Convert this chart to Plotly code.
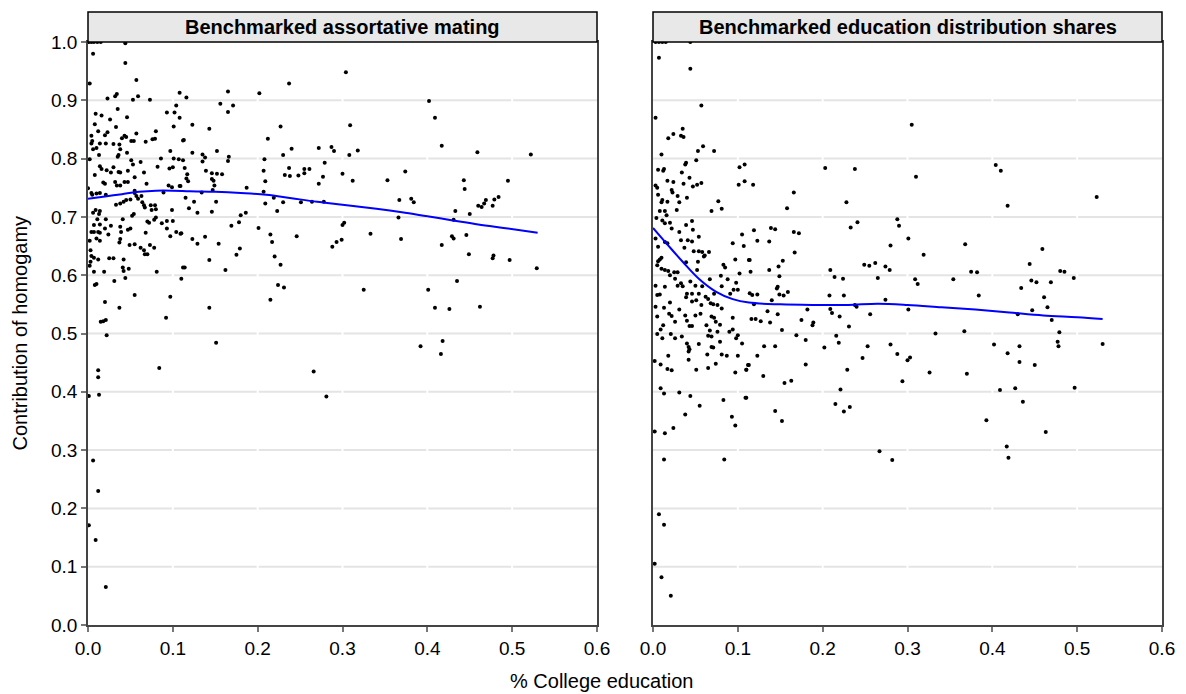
import plotly.graph_objects as go
from plotly.subplots import make_subplots

# ---- data -------------------------------------------------------------
panel_titles = ["Benchmarked assortative mating", "Benchmarked education distribution shares"]
x_ticks = [0.0, 0.1, 0.2, 0.3, 0.4, 0.5, 0.6]
y_ticks = [0.0, 0.1, 0.2, 0.3, 0.4, 0.5, 0.6, 0.7, 0.8, 0.9, 1.0]

# (share college educated, contribution of homogamy)
mating_points = [
    (0.001, 1.0), (0.004, 1.0), (0.007, 1.0), (0.011, 1.0), (0.015, 1.0), (0.044, 0.998),
    (0.006, 0.980), (0.044, 0.964), (0.002, 0.929), (0.057, 0.935), (0.034, 0.911), (0.032, 0.907),
    (0.023, 0.903), (0.053, 0.901), (0.059, 0.907), (0.073, 0.901), (0.108, 0.913), (0.104, 0.891),
    (0.093, 0.879), (0.102, 0.879), (0.108, 0.870), (0.009, 0.877), (0.016, 0.874), (0.026, 0.867),
    (0.046, 0.871), (0.035, 0.885), (0.101, 0.855), (0.008, 0.859), (0.033, 0.854), (0.012, 0.847),
    (0.023, 0.845), (0.020, 0.840), (0.080, 0.847), (0.057, 0.843), (0.004, 0.839), (0.043, 0.839),
    (0.040, 0.835), (0.045, 0.837), (0.051, 0.830), (0.054, 0.830), (0.076, 0.833), (0.079, 0.834),
    (0.068, 0.829), (0.113, 0.832), (0.005, 0.830), (0.004, 0.826), (0.014, 0.826), (0.021, 0.826),
    (0.030, 0.825), (0.037, 0.824), (0.006, 0.816), (0.010, 0.818), (0.038, 0.816), (0.046, 0.810),
    (0.097, 0.813), (0.013, 0.806), (0.036, 0.806), (0.035, 0.803), (0.002, 0.799), (0.051, 0.797),
    (0.086, 0.800), (0.101, 0.800), (0.107, 0.799), (0.014, 0.787), (0.053, 0.790), (0.062, 0.794),
    (0.100, 0.785), (0.082, 0.786), (0.096, 0.783), (0.016, 0.782), (0.022, 0.780), (0.030, 0.785),
    (0.027, 0.776), (0.036, 0.777), (0.038, 0.776), (0.047, 0.779), (0.066, 0.776), (0.055, 0.768),
    (0.008, 0.772), (0.018, 0.759), (0.020, 0.757), (0.032, 0.760), (0.034, 0.754), (0.043, 0.760),
    (0.047, 0.760), (0.038, 0.754), (0.069, 0.757), (0.095, 0.754), (0.099, 0.751), (0.109, 0.753),
    (0.000, 0.749), (0.004, 0.741), (0.005, 0.738), (0.010, 0.740), (0.014, 0.741), (0.055, 0.741),
    (0.057, 0.736), (0.055, 0.745), (0.021, 0.738), (0.089, 0.742), (0.063, 0.736), (0.059, 0.731),
    (0.050, 0.730), (0.045, 0.729), (0.042, 0.726), (0.038, 0.723), (0.033, 0.721), (0.064, 0.725),
    (0.066, 0.720), (0.074, 0.720), (0.079, 0.720), (0.080, 0.713), (0.075, 0.712), (0.099, 0.712),
    (0.067, 0.716), (0.009, 0.712), (0.014, 0.710), (0.006, 0.707), (0.013, 0.705), (0.054, 0.705),
    (0.052, 0.702), (0.041, 0.696), (0.021, 0.696), (0.011, 0.696), (0.080, 0.699), (0.078, 0.695),
    (0.070, 0.692), (0.072, 0.690), (0.087, 0.689), (0.093, 0.693), (0.100, 0.693), (0.007, 0.686),
    (0.014, 0.687), (0.027, 0.685), (0.038, 0.683), (0.050, 0.680), (0.020, 0.680), (0.093, 0.680),
    (0.047, 0.678), (0.004, 0.674), (0.007, 0.674), (0.012, 0.674), (0.014, 0.673), (0.024, 0.670),
    (0.039, 0.674), (0.068, 0.673), (0.104, 0.674), (0.110, 0.672), (0.097, 0.667), (0.010, 0.663),
    (0.014, 0.659), (0.038, 0.662), (0.037, 0.656), (0.002, 0.659), (0.049, 0.652), (0.003, 0.643),
    (0.062, 0.647), (0.073, 0.652), (0.078, 0.647), (0.055, 0.653), (0.066, 0.643), (0.067, 0.636),
    (0.070, 0.636), (0.004, 0.633), (0.007, 0.630), (0.012, 0.627), (0.025, 0.629), (0.030, 0.629),
    (0.042, 0.627), (0.003, 0.623), (0.002, 0.616), (0.041, 0.613), (0.048, 0.611), (0.042, 0.607),
    (0.114, 0.613), (0.007, 0.606), (0.019, 0.606), (0.081, 0.606), (0.110, 0.594), (0.044, 0.595),
    (0.010, 0.585), (0.008, 0.583), (0.031, 0.590), (0.055, 0.566), (0.097, 0.563), (0.020, 0.554),
    (0.037, 0.544), (0.092, 0.527), (0.015, 0.520), (0.018, 0.521), (0.021, 0.523), (0.022, 0.497),
    (0.012, 0.437), (0.012, 0.425), (0.084, 0.441), (0.001, 0.393), (0.013, 0.395), (0.006, 0.282),
    (0.012, 0.230), (0.001, 0.171), (0.009, 0.146), (0.021, 0.065),
    (0.116, 0.905), (0.165, 0.915), (0.156, 0.894), (0.171, 0.891), (0.165, 0.880), (0.202, 0.912),
    (0.237, 0.929), (0.304, 0.948), (0.123, 0.858), (0.143, 0.851), (0.112, 0.831), (0.227, 0.855),
    (0.212, 0.834), (0.309, 0.857), (0.123, 0.810), (0.152, 0.813), (0.135, 0.807), (0.138, 0.802),
    (0.135, 0.795), (0.166, 0.803), (0.165, 0.796), (0.112, 0.797), (0.230, 0.806), (0.240, 0.817),
    (0.208, 0.799), (0.272, 0.818), (0.287, 0.820), (0.290, 0.813), (0.308, 0.806), (0.114, 0.784),
    (0.117, 0.773), (0.116, 0.766), (0.118, 0.761), (0.139, 0.779), (0.146, 0.775), (0.152, 0.774),
    (0.158, 0.773), (0.146, 0.765), (0.148, 0.762), (0.149, 0.754), (0.147, 0.746), (0.207, 0.779),
    (0.209, 0.761), (0.237, 0.784), (0.232, 0.772), (0.238, 0.770), (0.248, 0.771), (0.255, 0.782),
    (0.261, 0.782), (0.255, 0.775), (0.279, 0.793), (0.277, 0.769), (0.272, 0.757), (0.300, 0.774),
    (0.187, 0.750), (0.108, 0.753), (0.134, 0.742), (0.115, 0.733), (0.125, 0.726), (0.151, 0.726),
    (0.119, 0.715), (0.129, 0.707), (0.146, 0.709), (0.207, 0.743), (0.209, 0.723), (0.219, 0.733),
    (0.230, 0.725), (0.223, 0.710), (0.251, 0.725), (0.264, 0.726), (0.278, 0.726), (0.180, 0.703),
    (0.186, 0.707), (0.178, 0.691), (0.169, 0.685), (0.109, 0.671), (0.123, 0.662), (0.129, 0.654),
    (0.138, 0.666), (0.154, 0.654), (0.179, 0.646), (0.175, 0.635), (0.143, 0.626), (0.201, 0.681),
    (0.215, 0.670), (0.217, 0.657), (0.220, 0.632), (0.227, 0.618), (0.246, 0.667), (0.302, 0.690),
    (0.300, 0.686), (0.299, 0.661), (0.293, 0.657), (0.288, 0.649), (0.112, 0.613), (0.162, 0.609),
    (0.224, 0.583), (0.231, 0.579), (0.215, 0.558), (0.143, 0.544), (0.151, 0.484), (0.266, 0.435),
    (0.281, 0.392),
    (0.402, 0.899), (0.409, 0.870), (0.417, 0.822), (0.318, 0.814), (0.459, 0.811), (0.522, 0.807),
    (0.312, 0.762), (0.353, 0.763), (0.374, 0.778), (0.443, 0.763), (0.444, 0.748), (0.495, 0.762),
    (0.367, 0.729), (0.381, 0.731), (0.384, 0.725), (0.460, 0.719), (0.464, 0.717), (0.467, 0.723),
    (0.469, 0.729), (0.479, 0.730), (0.484, 0.734), (0.477, 0.719), (0.433, 0.710), (0.450, 0.705),
    (0.431, 0.695), (0.366, 0.699), (0.333, 0.671), (0.369, 0.662), (0.429, 0.667), (0.431, 0.663),
    (0.446, 0.669), (0.417, 0.652), (0.449, 0.636), (0.478, 0.634), (0.477, 0.629), (0.497, 0.626),
    (0.529, 0.612), (0.325, 0.575), (0.401, 0.575), (0.435, 0.590), (0.409, 0.544), (0.426, 0.542),
    (0.462, 0.546), (0.392, 0.478), (0.418, 0.487), (0.416, 0.465),
]

shares_points = [
    (0.003, 1.0), (0.007, 1.0), (0.011, 1.0), (0.015, 1.0), (0.044, 1.0),
    (0.007, 0.973), (0.044, 0.954), (0.057, 0.891), (0.003, 0.870), (0.035, 0.851), (0.024, 0.842),
    (0.018, 0.835), (0.033, 0.839), (0.036, 0.837), (0.059, 0.821), (0.053, 0.813), (0.072, 0.813),
    (0.010, 0.807), (0.051, 0.797), (0.039, 0.793), (0.038, 0.790), (0.006, 0.781), (0.012, 0.779),
    (0.013, 0.782), (0.034, 0.776), (0.043, 0.767), (0.017, 0.762), (0.024, 0.760), (0.036, 0.757),
    (0.047, 0.752), (0.052, 0.755), (0.057, 0.758), (0.003, 0.754), (0.005, 0.750), (0.022, 0.746),
    (0.023, 0.742), (0.006, 0.738), (0.029, 0.736), (0.040, 0.733), (0.011, 0.729), (0.010, 0.725),
    (0.017, 0.726), (0.031, 0.725), (0.077, 0.727), (0.081, 0.714), (0.069, 0.710), (0.028, 0.712),
    (0.008, 0.710), (0.014, 0.710), (0.016, 0.703), (0.004, 0.698), (0.011, 0.694), (0.020, 0.690),
    (0.014, 0.689), (0.046, 0.693), (0.039, 0.686), (0.022, 0.680), (0.047, 0.678), (0.031, 0.674),
    (0.105, 0.670), (0.054, 0.666), (0.003, 0.663), (0.033, 0.660), (0.041, 0.660), (0.046, 0.658),
    (0.014, 0.657), (0.017, 0.655), (0.094, 0.655), (0.006, 0.649), (0.107, 0.650), (0.037, 0.647),
    (0.048, 0.641), (0.054, 0.641), (0.058, 0.640), (0.066, 0.640), (0.061, 0.634), (0.060, 0.632),
    (0.010, 0.630), (0.008, 0.627), (0.006, 0.624), (0.053, 0.623), (0.097, 0.627), (0.113, 0.626),
    (0.005, 0.617), (0.039, 0.622), (0.083, 0.618), (0.085, 0.613), (0.010, 0.611), (0.014, 0.609),
    (0.018, 0.607), (0.052, 0.609), (0.102, 0.603), (0.025, 0.605), (0.029, 0.605), (0.080, 0.599),
    (0.020, 0.600), (0.067, 0.593), (0.088, 0.593), (0.026, 0.594), (0.033, 0.586), (0.044, 0.589),
    (0.003, 0.582), (0.029, 0.582), (0.035, 0.581), (0.050, 0.582), (0.058, 0.581), (0.081, 0.581),
    (0.098, 0.587), (0.014, 0.580), (0.095, 0.575), (0.100, 0.575), (0.005, 0.566), (0.008, 0.567),
    (0.040, 0.568), (0.046, 0.568), (0.054, 0.568), (0.072, 0.568), (0.091, 0.568), (0.062, 0.563),
    (0.039, 0.562), (0.065, 0.559), (0.046, 0.555), (0.051, 0.557), (0.020, 0.553), (0.068, 0.552),
    (0.071, 0.550), (0.076, 0.549), (0.003, 0.546), (0.031, 0.541), (0.013, 0.544), (0.057, 0.549),
    (0.081, 0.543), (0.019, 0.534), (0.022, 0.530), (0.038, 0.531), (0.050, 0.531), (0.056, 0.534),
    (0.069, 0.529), (0.072, 0.527), (0.094, 0.527), (0.005, 0.529), (0.026, 0.520), (0.040, 0.522),
    (0.074, 0.520), (0.012, 0.514), (0.043, 0.513), (0.046, 0.513), (0.063, 0.514), (0.079, 0.515),
    (0.009, 0.507), (0.067, 0.505), (0.076, 0.503), (0.090, 0.503), (0.094, 0.507), (0.005, 0.499),
    (0.021, 0.499), (0.034, 0.495), (0.065, 0.496), (0.069, 0.495), (0.100, 0.497),
    (0.011, 0.492), (0.026, 0.492), (0.098, 0.492), (0.105, 0.483), (0.040, 0.483), (0.054, 0.482),
    (0.042, 0.477), (0.043, 0.473), (0.042, 0.469), (0.069, 0.477), (0.071, 0.476), (0.079, 0.486),
    (0.018, 0.462), (0.064, 0.464), (0.081, 0.464), (0.087, 0.462), (0.100, 0.462), (0.002, 0.453),
    (0.042, 0.455), (0.009, 0.447), (0.074, 0.448), (0.112, 0.446), (0.017, 0.439), (0.022, 0.437),
    (0.051, 0.438), (0.065, 0.441), (0.097, 0.433), (0.110, 0.438), (0.009, 0.406), (0.013, 0.397),
    (0.031, 0.399), (0.044, 0.393), (0.109, 0.390), (0.055, 0.376), (0.083, 0.386), (0.038, 0.361),
    (0.093, 0.357), (0.097, 0.342), (0.024, 0.338), (0.002, 0.332), (0.014, 0.329), (0.013, 0.284),
    (0.084, 0.284), (0.007, 0.190), (0.013, 0.172), (0.002, 0.105), (0.010, 0.082), (0.021, 0.050),
    (0.102, 0.785), (0.108, 0.790), (0.101, 0.755), (0.108, 0.761),
    (0.305, 0.858), (0.118, 0.755), (0.166, 0.742), (0.158, 0.715), (0.203, 0.784), (0.238, 0.782),
    (0.228, 0.725), (0.233, 0.682), (0.241, 0.691), (0.288, 0.696), (0.290, 0.685), (0.301, 0.663),
    (0.280, 0.651), (0.119, 0.677), (0.139, 0.681), (0.144, 0.679), (0.123, 0.659), (0.137, 0.658),
    (0.166, 0.674), (0.172, 0.672), (0.167, 0.639), (0.114, 0.626), (0.153, 0.625), (0.148, 0.615),
    (0.115, 0.606), (0.137, 0.609), (0.149, 0.598), (0.147, 0.580), (0.146, 0.577), (0.159, 0.571),
    (0.154, 0.565), (0.149, 0.567), (0.114, 0.569), (0.117, 0.566), (0.123, 0.567), (0.119, 0.550),
    (0.140, 0.557), (0.209, 0.609), (0.214, 0.597), (0.224, 0.594), (0.249, 0.618), (0.255, 0.616),
    (0.262, 0.621), (0.274, 0.615), (0.279, 0.609), (0.265, 0.595), (0.309, 0.593), (0.208, 0.565),
    (0.225, 0.565), (0.274, 0.558), (0.238, 0.549), (0.240, 0.546), (0.209, 0.542), (0.211, 0.535),
    (0.182, 0.541), (0.256, 0.533), (0.220, 0.529), (0.231, 0.512), (0.301, 0.541), (0.116, 0.525),
    (0.121, 0.525), (0.127, 0.521), (0.135, 0.538), (0.138, 0.519), (0.147, 0.533), (0.175, 0.523),
    (0.189, 0.519), (0.188, 0.514), (0.152, 0.506), (0.169, 0.497), (0.216, 0.496),
    (0.180, 0.489), (0.219, 0.484), (0.202, 0.476), (0.131, 0.478), (0.144, 0.478), (0.123, 0.462),
    (0.113, 0.446), (0.110, 0.438), (0.130, 0.427), (0.155, 0.415), (0.163, 0.419), (0.180, 0.447),
    (0.229, 0.438), (0.221, 0.404), (0.247, 0.458), (0.253, 0.478), (0.280, 0.481), (0.288, 0.465),
    (0.300, 0.454), (0.303, 0.459), (0.294, 0.418), (0.110, 0.390), (0.144, 0.367), (0.152, 0.350),
    (0.215, 0.379), (0.225, 0.366), (0.232, 0.374), (0.267, 0.298), (0.282, 0.283),
    (0.404, 0.789), (0.410, 0.779), (0.310, 0.769), (0.418, 0.719), (0.523, 0.734), (0.319, 0.635),
    (0.368, 0.653), (0.459, 0.645), (0.444, 0.619), (0.375, 0.606), (0.382, 0.605), (0.480, 0.607),
    (0.485, 0.606), (0.312, 0.585), (0.354, 0.593), (0.496, 0.595), (0.446, 0.591), (0.452, 0.588),
    (0.469, 0.588), (0.434, 0.578), (0.384, 0.565), (0.461, 0.562), (0.465, 0.545), (0.447, 0.540),
    (0.430, 0.533), (0.470, 0.523), (0.333, 0.500), (0.367, 0.504), (0.479, 0.502),
    (0.402, 0.481), (0.432, 0.478), (0.477, 0.486), (0.478, 0.478), (0.530, 0.482), (0.418, 0.466),
    (0.432, 0.451), (0.450, 0.446), (0.326, 0.433), (0.370, 0.431), (0.409, 0.403), (0.427, 0.406),
    (0.497, 0.407), (0.436, 0.383), (0.393, 0.351), (0.463, 0.331), (0.417, 0.306), (0.419, 0.287),
]

# smoothed (lowess) fits
mating_fit_x = [0.0, 0.02, 0.04, 0.06, 0.08, 0.10, 0.12, 0.15, 0.18, 0.21, 0.24, 0.27, 0.30,
                0.34, 0.37, 0.40, 0.43, 0.46, 0.49, 0.53]
mating_fit_y = [0.731, 0.735, 0.739, 0.743, 0.745, 0.745, 0.744, 0.743, 0.741, 0.738, 0.732,
                0.726, 0.721, 0.714, 0.708, 0.701, 0.694, 0.687, 0.681, 0.673]
shares_fit_x = [0.0, 0.015, 0.035, 0.054, 0.074, 0.094, 0.113, 0.15, 0.19, 0.23, 0.265, 0.30,
                0.34, 0.38, 0.42, 0.46, 0.50, 0.53]
shares_fit_y = [0.681, 0.656, 0.623, 0.594, 0.572, 0.559, 0.553, 0.550, 0.549, 0.549, 0.551,
                0.549, 0.545, 0.541, 0.536, 0.531, 0.528, 0.525]

# ---- figure -----------------------------------------------------------
FONT = "Liberation Sans, Arial, sans-serif"
W, H = 1186, 694
ML, MR, MT, MB = 88, 24, 42, 69
plot_w = W - ML - MR
plot_h = H - MT - MB
gap = 56 / plot_w

fig = make_subplots(rows=1, cols=2, horizontal_spacing=gap, shared_yaxes=False)

panels = [
    (mating_points, mating_fit_x, mating_fit_y),
    (shares_points, shares_fit_x, shares_fit_y),
]
for i, (pts, fx, fy) in enumerate(panels, start=1):
    fig.add_trace(go.Scatter(
        x=[p[0] for p in pts], y=[p[1] for p in pts], mode="markers",
        marker=dict(size=4, color="black"), showlegend=False,
    ), row=1, col=i)
    fig.add_trace(go.Scatter(
        x=fx, y=fy, mode="lines", line=dict(color="#0000ff", width=2),
        line_shape="spline", showlegend=False,
    ), row=1, col=i)

axis_common = dict(showline=True, linecolor="#444444", linewidth=1.5, mirror=True,
                   ticks="outside", ticklen=5, tickcolor="#777777", tickwidth=1.5,
                   zeroline=False, showgrid=False,
                   tickfont=dict(family=FONT, size=19, color="black"))
for i in (1, 2):
    fig.update_xaxes(range=[0, 0.6], tickvals=x_ticks, tickformat=".1f", **axis_common,
                     row=1, col=i)
    fig.update_yaxes(range=[0, 1.0], tickvals=y_ticks, tickformat=".1f", **axis_common,
                     row=1, col=i)
fig.update_yaxes(showticklabels=False, ticks="", row=1, col=2)

shapes = []
annotations = []
strip_top = 1 + 30 / plot_h
for i, title in enumerate(panel_titles):
    xa = "x" if i == 0 else "x2"
    ya = "y" if i == 0 else "y2"
    # light horizontal grid at each y tick
    for t in y_ticks[1:-1]:
        shapes.append(dict(type="line", xref=f"{xa} domain", yref=ya,
                           x0=0, x1=1, y0=t, y1=t, layer="below",
                           line=dict(color="#e4e4e4", width=2)))
    # white breaks in that grid at each x tick
    for t in x_ticks[1:-1]:
        shapes.append(dict(type="line", xref=xa, yref=f"{ya} domain",
                           x0=t, x1=t, y0=0, y1=1, layer="below",
                           line=dict(color="white", width=2)))
    # title strip
    shapes.append(dict(type="rect", xref=f"{xa} domain", yref="paper",
                       x0=0, x1=1, y0=1, y1=strip_top,
                       fillcolor="#e8e8e8", line=dict(color="black", width=1.5)))
    annotations.append(dict(text=f"<b>{title}</b>", xref=f"{xa} domain", yref="paper",
                            x=0.5, y=(1 + strip_top) / 2, showarrow=False,
                            xanchor="center", yanchor="middle",
                            font=dict(family=FONT, size=20, color="black")))

annotations.append(dict(text="% College education", xref="paper", yref="paper",
                        x=(601 - ML) / plot_w, y=-(681 - (MT + plot_h)) / plot_h,
                        showarrow=False, xanchor="center", yanchor="middle",
                        font=dict(family=FONT, size=20, color="black")))
annotations.append(dict(text="Contribution of homogamy", xref="paper", yref="paper",
                        x=-(ML - 19) / plot_w, y=0.5, textangle=-90, showarrow=False,
                        xanchor="center", yanchor="middle",
                        font=dict(family=FONT, size=20, color="black")))

fig.update_layout(
    width=W, height=H, margin=dict(l=ML, r=MR, t=MT, b=MB),
    paper_bgcolor="white", plot_bgcolor="white",
    shapes=shapes, annotations=annotations, showlegend=False,
    font=dict(family=FONT, size=19, color="black"),
)

fig.write_html("out.html")
